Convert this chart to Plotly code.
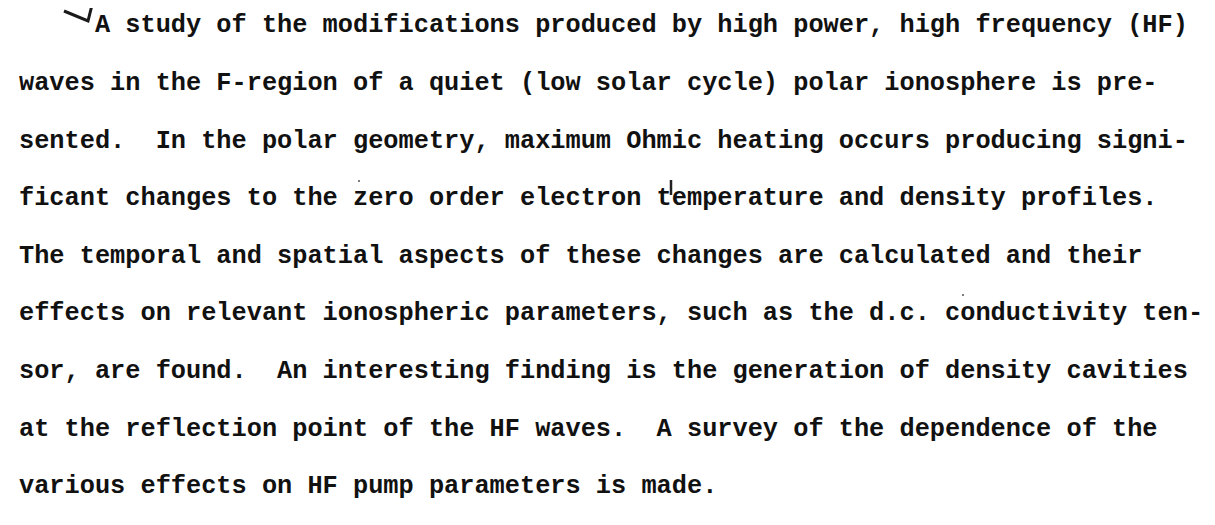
import plotly.graph_objects as go

lines = [
    "     A study of the modifications produced by high power, high frequency (HF)",
    "waves in the F-region of a quiet (low solar cycle) polar ionosphere is pre-",
    "sented.  In the polar geometry, maximum Ohmic heating occurs producing signi-",
    "ficant changes to the zero order electron temperature and density profiles.",
    "The temporal and spatial aspects of these changes are calculated and their",
    "effects on relevant ionospheric parameters, such as the d.c. conductivity ten-",
    "sor, are found.  An interesting finding is the generation of density cavities",
    "at the reflection point of the HF waves.  A survey of the dependence of the",
    "various effects on HF pump parameters is made.",
]
line_rows = list(range(len(lines)))

W, H = 1215, 525
left = 11
top = 18
step = 57.6

fig = go.Figure()
for i, txt in zip(line_rows, lines):
    fig.add_trace(go.Scatter(
        x=[left], y=[top + step * i],
        mode="text",
        text=[txt.replace(" ", "\u00a0")],
        textposition="middle right",
        textfont=dict(family="Liberation Mono", size=25.3, color="#111111", weight="bold"),
        hoverinfo="skip", showlegend=False,
    ))

# hand-drawn check mark
fig.add_trace(go.Scatter(
    x=[56, 68, 80, 84], y=[3, 8, 13, -3],
    mode="lines", line=dict(color="#1a1a1a", width=3),
    hoverinfo="skip", showlegend=False,
))
# raised stroke of the "t" in "temperature"
fig.add_trace(go.Scatter(
    x=[663, 663], y=[172, 187],
    mode="lines", line=dict(color="#222222", width=2.5),
    hoverinfo="skip", showlegend=False,
))
# small specks on the page
fig.add_trace(go.Scatter(
    x=[351, 955], y=[173, 287],
    mode="markers", marker=dict(color="#555555", size=2),
    hoverinfo="skip", showlegend=False,
))

fig.update_layout(
    width=W, height=H,
    margin=dict(l=0, r=0, t=0, b=0),
    paper_bgcolor="white", plot_bgcolor="white",
    xaxis=dict(range=[0, W], visible=False, fixedrange=True),
    yaxis=dict(range=[H, 0], visible=False, fixedrange=True),
)
fig.write_html("out.html")
